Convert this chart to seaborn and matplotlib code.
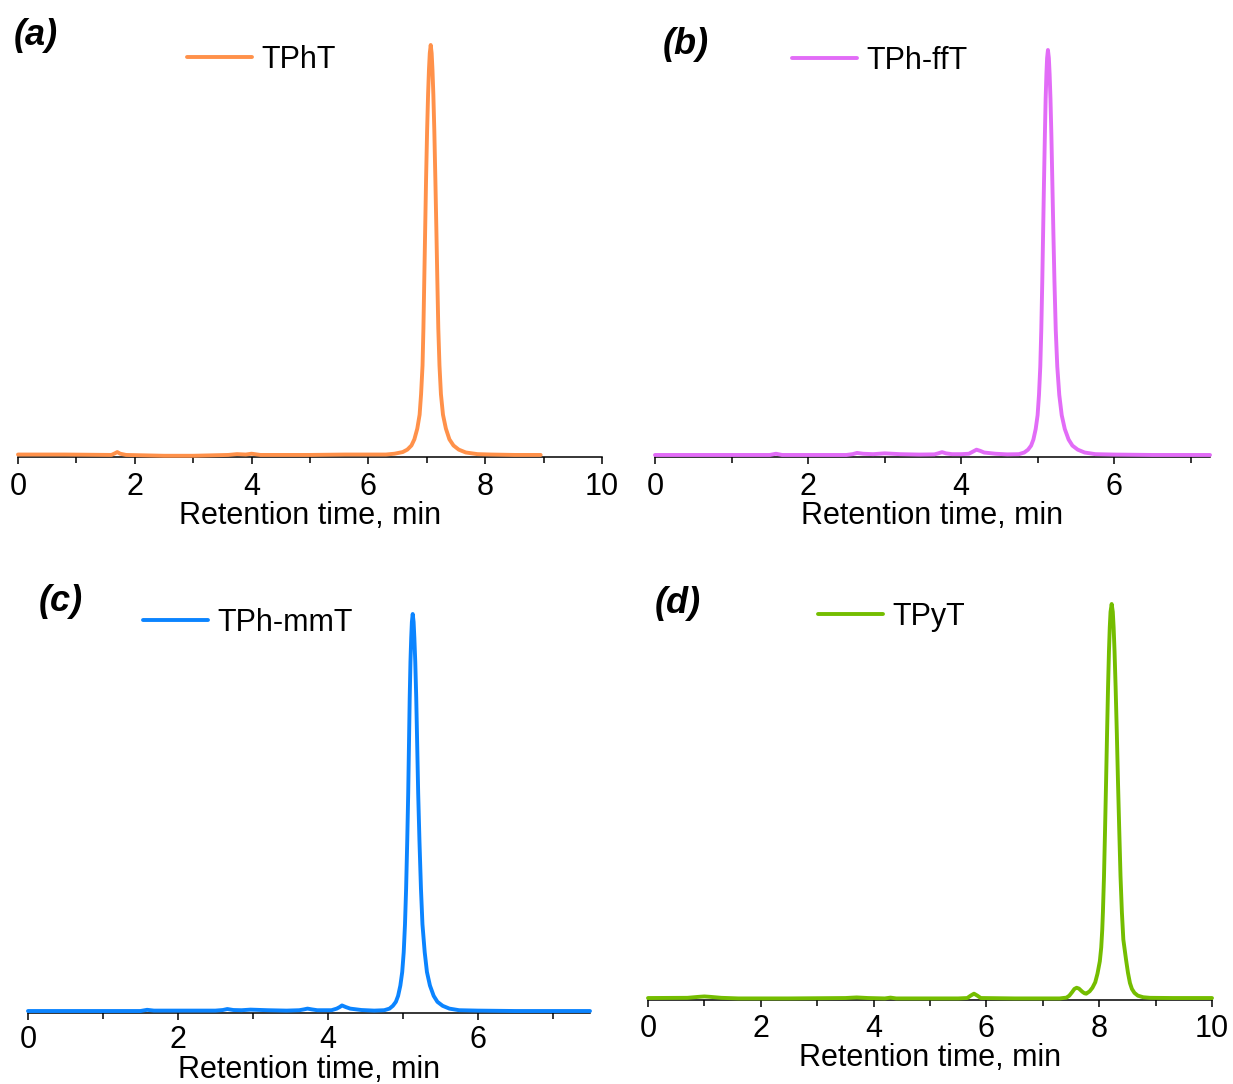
import matplotlib
matplotlib.use("Agg")
import matplotlib.pyplot as plt
import numpy as np
import pandas as pd
import seaborn as sns
from matplotlib.ticker import MultipleLocator
from matplotlib import font_manager

# ---------------- data (retention time in min, signal in % of main peak) ----------------
tpht_time = [0.00, 0.80, 1.60, 1.66, 1.70, 1.75, 1.85,
             2.50, 3.00, 3.60, 3.75, 3.90, 4.00, 4.15,
             5.00, 5.60, 6.00, 6.30,
             6.447, 6.587, 6.667, 6.737, 6.787, 6.837, 6.877, 6.902, 6.927, 6.942, 6.957,
             6.972, 6.987, 7.005, 7.022, 7.037, 7.051,
             7.067,
             7.083, 7.097, 7.112, 7.129, 7.147, 7.164, 7.18, 7.197, 7.217, 7.242, 7.277,
             7.327, 7.387, 7.457, 7.547, 7.667, 7.867,
             8.10, 8.50, 8.95]
tpht_signal = [0.3, 0.3, 0.2, 0.6, 0.9, 0.5, 0.2,
               0.0, 0.0, 0.2, 0.4, 0.3, 0.5, 0.2,
               0.2, 0.3, 0.3, 0.3,
               0.5, 0.9, 1.5, 2.5, 4, 6.6, 10, 15, 22, 31, 43,
               55, 67, 79, 88, 94, 98,
               100,
               98, 94, 88, 79, 67, 55, 43, 31, 22, 15, 10,
               6.6, 4, 2.5, 1.5, 0.8, 0.4,
               0.3, 0.2, 0.2]

tphfft_time = [0.00, 1.50, 1.58, 1.66, 2.50, 2.58, 2.64, 2.72, 2.85, 3.00, 3.20, 3.45, 3.65,
               3.70, 3.75, 3.80, 3.88, 4.00, 4.10, 4.15, 4.20, 4.25, 4.30, 4.45, 4.60,
               4.753, 4.823, 4.873, 4.913, 4.943, 4.973, 4.998, 5.016, 5.033, 5.046, 5.059,
               5.07, 5.081, 5.093, 5.103, 5.113, 5.122,
               5.133,
               5.145, 5.155, 5.166, 5.178, 5.191, 5.204, 5.218, 5.235, 5.255, 5.281, 5.313,
               5.353, 5.403, 5.453, 5.523, 5.613, 5.753,
               6.00, 6.50, 7.25]
tphfft_signal = [0.2, 0.2, 0.5, 0.2, 0.2, 0.4, 0.7, 0.5, 0.4, 0.6, 0.4, 0.3, 0.35,
                 0.6, 0.9, 0.6, 0.4, 0.4, 0.5, 1.0, 1.5, 1.2, 0.8, 0.5, 0.35,
                 0.4, 0.8, 1.5, 2.5, 4, 6.6, 10, 15, 22, 31, 43,
                 55, 67, 79, 88, 94, 98,
                 100,
                 98, 94, 88, 79, 67, 55, 43, 31, 22, 15, 10,
                 6.6, 4, 2.5, 1.5, 0.8, 0.4,
                 0.3, 0.2, 0.2]

tphmmt_time = [0.00, 1.50, 1.59, 1.68, 2.50, 2.60, 2.66, 2.74, 2.85, 2.97, 3.20, 3.45, 3.62,
               3.68, 3.73, 3.79, 3.86, 4.05, 4.12, 4.16, 4.19, 4.24, 4.30, 4.45, 4.62,
               4.754, 4.824, 4.869, 4.909, 4.939, 4.969, 4.994, 5.014, 5.031, 5.046, 5.061,
               5.074, 5.084, 5.094, 5.104, 5.114, 5.123,
               5.134,
               5.146, 5.156, 5.168, 5.181, 5.194, 5.207, 5.224, 5.244, 5.264, 5.294, 5.324,
               5.364, 5.414, 5.464, 5.534, 5.624, 5.754,
               6.00, 6.50, 7.50]
tphmmt_signal = [0.2, 0.2, 0.5, 0.3, 0.3, 0.45, 0.7, 0.45, 0.4, 0.55, 0.4, 0.3, 0.4,
                 0.6, 0.8, 0.6, 0.4, 0.4, 0.8, 1.2, 1.6, 1.2, 0.8, 0.45, 0.3,
                 0.4, 0.8, 1.5, 2.5, 4, 6.6, 10, 15, 22, 31, 43,
                 55, 67, 79, 88, 94, 98,
                 100,
                 98, 94, 88, 79, 67, 55, 43, 31, 22, 15, 10,
                 6.6, 4, 2.5, 1.5, 0.8, 0.4,
                 0.3, 0.2, 0.2]

tpyt_time = [0.00, 0.70, 0.90, 1.00, 1.10, 1.30, 1.60,
             2.50, 3.50, 3.70, 3.90, 4.20, 4.30, 4.40,
             5.50, 5.66, 5.72, 5.78, 5.84, 5.90, 6.50,
             7.30, 7.42, 7.47, 7.52, 7.56, 7.60, 7.64, 7.70, 7.74, 7.77,
             7.83, 7.88, 7.93, 7.97, 8.011, 8.036, 8.054, 8.066, 8.085, 8.104, 8.122, 8.139,
             8.157, 8.173, 8.187, 8.201,
             8.221,
             8.241, 8.256, 8.272, 8.291, 8.313, 8.333, 8.355, 8.378, 8.402, 8.428, 8.475,
             8.51, 8.545, 8.58, 8.625, 8.685, 8.78,
             8.90, 9.30, 10.0]
tpyt_signal = [0.2, 0.25, 0.5, 0.6, 0.5, 0.25, 0.1,
               0.1, 0.2, 0.35, 0.2, 0.1, 0.3, 0.1,
               0.1, 0.2, 0.8, 1.3, 0.8, 0.2, 0.1,
               0.1, 0.3, 0.8, 1.7, 2.5, 2.8, 2.6, 1.8, 1.4, 1.3,
               1.9, 2.8, 4.2, 6.4, 9.5, 13, 17.5, 22, 31, 43, 55, 67,
               79, 88, 94, 98,
               100,
               98, 94, 88, 79, 67, 55, 43, 31, 22, 15, 10,
               6.6, 4, 2.5, 1.5, 0.8, 0.4,
               0.25, 0.2, 0.2]

sample_names = ["TPhT", "TPh-ffT", "TPh-mmT", "TPyT"]
panel_letters = ["(a)", "(b)", "(c)", "(d)"]
line_colors = ["#FF914A", "#E26CF7", "#0B84FF", "#74BD00"]
xlabel_text = "Retention time, min"

# ---------------- style ----------------
sns.set_style("white")
names = {f.name for f in font_manager.fontManager.ttflist}
if "Liberation Sans Narrow" in names:
    FAMILY = ["Liberation Sans Narrow", "DejaVu Sans"]
    TICK_FS, LABEL_FS, LEG_FS = 23, 25, 25
    HL, HTP = 1.86, 0.29
else:
    FAMILY = ["Liberation Sans", "DejaVu Sans"]
    TICK_FS, LABEL_FS, LEG_FS = 22, 22, 22
    HL, HTP = 2.13, 0.31
plt.rcParams["font.family"] = FAMILY
plt.rcParams["text.color"] = "black"
plt.rcParams["axes.labelcolor"] = "black"
plt.rcParams["xtick.color"] = "black"
plt.rcParams["xtick.labelcolor"] = "black"

W, H = 1233, 1084
fig = plt.figure(figsize=(W / 100, H / 100), dpi=100)
fig.patch.set_facecolor("white")


def fx(px):
    return px / W


def fy(py):
    return 1 - py / H


layout = [
    # left, right, spine_y, top_y, xmax, legend x, legend y, letter x, letter baseline,
    # tick-label pad, xlabel pad
    (18, 602, 457, 45, 10.0, 187, 60, 14, 45, 6.0, -1),
    (655, 1210, 457, 50, 7.25, 792, 61, 663, 54, 6.0, -1),
    (28, 590, 1013, 614, 7.5, 143, 623, 39, 611, 4.0, 0),
    (648, 1212, 1000, 604, 10.0, 818, 617, 655, 613, 5.5, -1),
]
series = [(tpht_time, tpht_signal), (tphfft_time, tphfft_signal),
          (tphmmt_time, tphmmt_signal), (tpyt_time, tpyt_signal)]

for i, (lay, (t, s)) in enumerate(zip(layout, series)):
    left, right, spine, top, xmax, lgx, lgy, ltx, lty, tpad, lpad = lay
    ax = fig.add_axes([fx(left), fy(spine), (right - left) / W, (spine - top) / H])
    df = pd.DataFrame({"time": t, "signal": s})
    sns.lineplot(data=df, x="time", y="signal", color=line_colors[i], linewidth=2.8,
                 ax=ax, errorbar=None, label=sample_names[i])
    for ln in ax.get_lines():
        ln.set_clip_on(False)
        ln.set_solid_joinstyle("round")
        ln.set_solid_capstyle("round")
    ax.set_xlim(0, xmax)
    ax.set_ylim(-0.3, 100)
    ax.set_facecolor("none")
    for sp in ["left", "top", "right"]:
        ax.spines[sp].set_visible(False)
    ax.spines["bottom"].set_color("black")
    ax.spines["bottom"].set_linewidth(1.1)
    ax.spines["bottom"].set_zorder(0.5)
    ax.set_yticks([])
    ax.set_ylabel("")
    ax.xaxis.set_major_locator(MultipleLocator(2))
    ax.xaxis.set_minor_locator(MultipleLocator(1))
    ax.tick_params(axis="x", which="major", direction="out", length=4.8, width=1.1,
                   color="black", labelsize=TICK_FS, pad=tpad, bottom=True)
    ax.tick_params(axis="x", which="minor", direction="out", length=4.3, width=1.1,
                   color="black", bottom=True)
    ax.set_xlabel(xlabel_text, fontsize=LABEL_FS, labelpad=lpad, color="black")
    handles = ax.get_lines()[:1]
    ax.legend(handles, [sample_names[i]], loc="center left",
              bbox_to_anchor=(fx(lgx), fy(lgy)), bbox_transform=fig.transFigure,
              frameon=False, borderpad=0, borderaxespad=0, handlelength=HL,
              handletextpad=HTP, fontsize=LEG_FS)
    fig.text(fx(ltx), fy(lty), panel_letters[i], fontsize=26, fontweight="bold",
             fontstyle="italic", family=["Liberation Sans", "DejaVu Sans"],
             color="black", ha="left", va="baseline")

fig.savefig("out.png", dpi=100, facecolor="white")
